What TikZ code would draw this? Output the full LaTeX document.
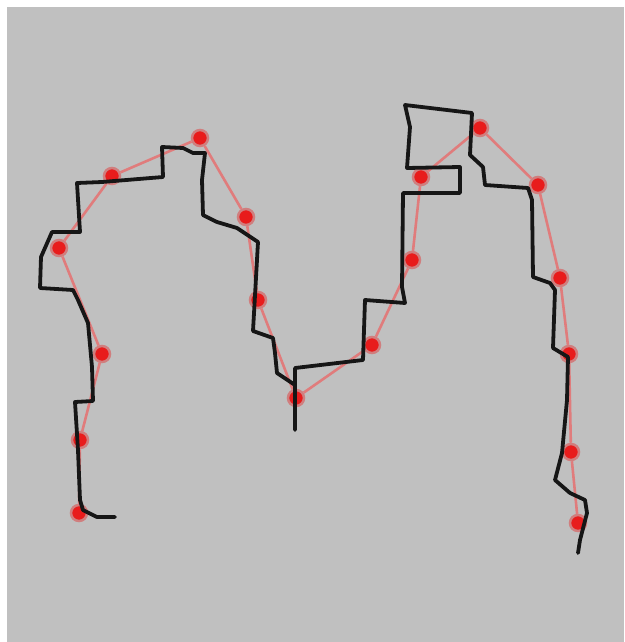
\documentclass[tikz,border=0pt]{standalone}
\usepackage{tikz}
\usetikzlibrary{positioning}
\definecolor{CurvaFundo}{RGB}{192,192,192}
\definecolor{CurvaPonto}{RGB}{232,28,28}
\definecolor{CurvaLigacao}{RGB}{224,124,124}
\definecolor{CurvaTraco}{RGB}{22,22,22}
\tikzset{
  ponto/.style={circle, fill=CurvaPonto, draw=CurvaPonto!40!CurvaFundo, line width=2.5pt,
                minimum size=16pt, inner sep=0pt},
  ligacao/.style={CurvaLigacao, line width=2.6pt},
  traco/.style={CurvaTraco, line width=3.8pt, line join=round, line cap=round},
}

\begin{document}
\begin{tikzpicture}[x=1pt, y=-1pt]
  \useasboundingbox (0,0) rectangle (624,642);
  \fill[CurvaFundo] (7,7) rectangle (624,642);

  % pontos amostrados
  \foreach \n/\x/\y in {1/79/513, 2/80/440, 3/102/354, 4/59/248, 5/112/176, 6/200/138,
                        7/246/217, 8/258/300, 9/296/398, 10/372/345, 11/412/260,
                        12/421/177, 13/480/128, 14/538/185, 15/560/278, 16/569/354,
                        17/571/452, 18/578/523}{
    \node[ponto] (p\n) at (\x,\y) {};
  }
  % ligacoes entre pontos consecutivos
  \foreach \a/\b in {p1/p2, p2/p3, p3/p4, p4/p5, p5/p6, p6/p7, p7/p8, p8/p9, p9/p10,
                     p10/p11, p11/p12, p12/p13, p13/p14, p14/p15, p15/p16, p16/p17, p17/p18}{
    \draw[ligacao] (\a) -- (\b);
  }

  % traco a mao livre
  \draw[traco] (115,517) -- (97,517) -- (83,510) -- (80,500) -- (78,450) -- (75,402)
    -- (93,401) -- (92,367) -- (88,323) -- (78,300) -- (73,290) -- (40,288) -- (41,257)
    -- (52,232) -- (80,232) -- (77,183) -- (102,182) -- (163,177) -- (162,147)
    -- (183,148) -- (193,153) -- (205,153) -- (202,180) -- (203,215) -- (217,222)
    -- (237,228) -- (258,242) -- (253,331) -- (273,338) -- (275,353) -- (277,373)
    -- (295,385) -- (295,430) -- (295,368) -- (363,360) -- (365,300) -- (405,303)
    -- (402,287) -- (403,193) -- (460,193) -- (460,167) -- (407,168) -- (410,127)
    -- (405,105) -- (472,113) -- (470,155) -- (483,167) -- (485,185) -- (528,188)
    -- (532,200) -- (533,277) -- (550,283) -- (555,290) -- (553,348) -- (568,357)
    -- (567,400) -- (562,453) -- (555,480) -- (570,493) -- (585,500) -- (587,513)
    -- (580,540) -- (578,553);
\end{tikzpicture}
\end{document}
